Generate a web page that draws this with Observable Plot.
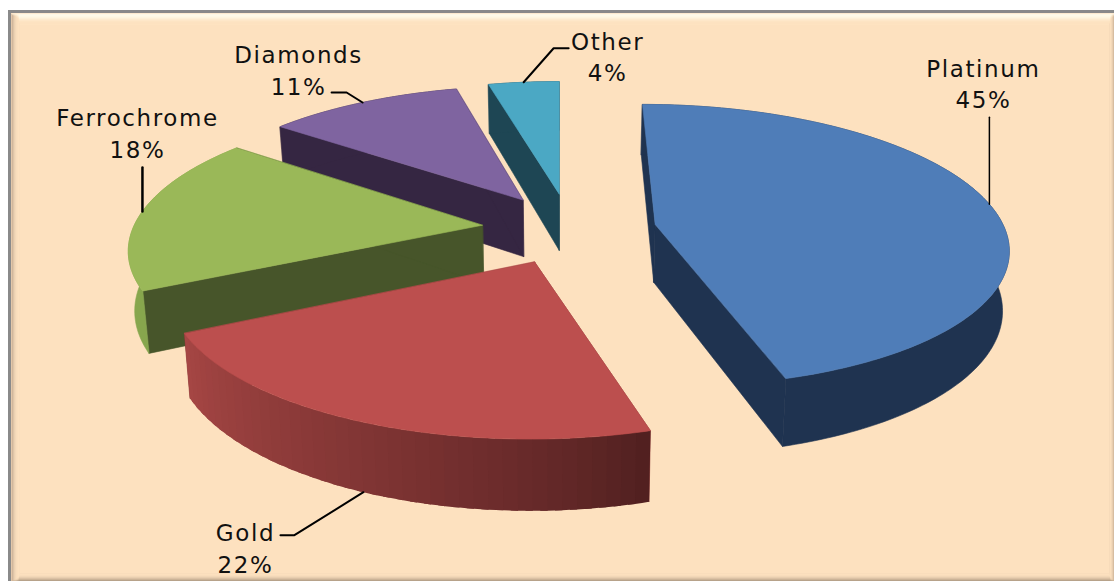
<!DOCTYPE html>
<html>
<head>
<meta charset="utf-8">
<script src="https://cdn.jsdelivr.net/npm/d3@7"></script>
<script src="https://cdn.jsdelivr.net/npm/@observablehq/plot@0.6"></script>
<style>
  html, body { margin: 0; padding: 0; background: #fff; overflow: hidden; }
  svg { display: block; }
  svg text { letter-spacing: 1.6px; }
</style>
</head>
<body>
<div id="chart"></div>
<script>
// Share of output by commodity, in percent, clockwise from twelve o'clock.
const commodities = ["Platinum", "Gold", "Ferrochrome", "Diamonds", "Other"];
const shares = [45, 22, 18, 11, 4];

const W = 1114, H = 581;

// Ground-plane perspective: unit pie mapped to the screen.
const vanishX = 558, horizon = -693, depthK = 0.15, scaleX = 347, planeSpan = 915;
const wallDepth = 58, wallShrink = 0.985;

// Explosion of each slice on the ground plane (pie radius = 1).
const explode = [[0.278, -0.012], [-0.066, -0.276], [-0.219, -0.02], [-0.105, 0.168], [0.002, 0.214]];

const topFill = ["#4f7db8", "#bc4f4e", "#9ab858", "#7f64a0", "#4ba8c4"];
const wallFill = ["#1f3350", "#8a3836", "#47552a", "#352642", "#1e4654"];
const rimFill = ["#1f3350", null, "#87a64d", "#352642", "#1e4654"];
const goldRimRamp = ["#4f1f1f", "#a64644"];

// Leader bends and label centres, relative to the slice's mid-angle rim point.
const leaderBends = [[[0, -87]], [[-69, 43], [-83, 43]], [[0, -44]], [[-16, -10], [-31, -10]], [[30, -34], [45, -34]]];
const labelOffsets = [[-6, -122], [-118, 55], [-5, -80], [-64, -34], [84, -27]];
const leaderWidths = [1.5, 2, 2.5, 2, 2];

function project(X, Y, drop = 0) {
  const w = 1 + depthK * Y;
  const shrink = drop ? wallShrink : 1;
  return {x: vanishX + shrink * scaleX * X / w, y: horizon + planeSpan / w + drop * wallDepth / w};
}
const rad = d => d * Math.PI / 180;
// The oblique view drifts angles by a couple of degrees around the back of the pie.
const viewAngle = d => d + 2.4 * Math.sin(Math.PI * Math.pow(d / 360, 1.8));
const rimPoint = (i, deg, drop = 0) => {
  const t = rad(viewAngle(deg));
  return project(explode[i][0] + Math.sin(t), explode[i][1] + Math.cos(t), drop);
};
const apex = (i, drop = 0) => project(explode[i][0], explode[i][1], drop);

const sweeps = [];
{
  let from = 0;
  shares.forEach(s => { const to = from + s * 3.6; sweeps.push([from, to]); from = to; });
}
const arc = (i, a, b, drop = 0) => {
  const n = Math.max(2, Math.ceil(Math.abs(b - a)));
  return d3.range(n + 1).map(k => rimPoint(i, a + (b - a) * k / n, drop));
};

const polygon = (pts, fill) => Plot.line(pts, {x: "x", y: "y", fill, stroke: fill, strokeWidth: 0.6, curve: "linear-closed"});

function sliceMarks(i) {
  const [a, b] = sweeps[i];
  const marks = [];
  const radialWall = deg => [apex(i), rimPoint(i, deg), rimPoint(i, deg, 1), apex(i, 1)];
  marks.push(polygon(radialWall(a), wallFill[i]));
  marks.push(polygon(radialWall(b), wallFill[i]));
  if (commodities[i] === "Gold") {
    // The rim darkens toward its right-hand end; each band overlaps the next so no seam shows.
    const ramp = d3.interpolateRgb(...goldRimRamp);
    const n = 40;
    for (let k = 0; k < n; k++) {
      const d0 = a + (b - a) * k / n;
      const d1 = Math.min(b, a + (b - a) * (k + 1.5) / n);
      const pts = [...arc(i, d0, d1), ...arc(i, d1, d0, 1)];
      marks.push(Plot.line(pts, {x: "x", y: "y", fill: ramp(Math.pow((k + 0.5) / n, 0.8)), curve: "linear-closed"}));
    }
  } else {
    marks.push(polygon([...arc(i, a, b), ...arc(i, b, a, 1)], rimFill[i]));
  }
  marks.push(polygon([apex(i), ...arc(i, a, b)], topFill[i]));
  return marks;
}

// Picture-frame bevel: concentric one-pixel bands, outermost first.
const page = "#fde1bf";
const ramps = {
  top: ["#fff6e2", "#fffbe9", "#fffbe9", "#fff8e2", "#fff4dc", "#ffeed2", "#fee9cc", "#fde5c5", "#fde3c2", "#fde2c0", page],
  left: ["#c9ae94", "#d9bfa3", "#e6ccae", "#f0d5b6", "#f6dbba", "#fadfbd", "#fce0be", page],
  right: ["#cfb598", "#e0c6a8", "#efd4b5", "#f8dcbb", page],
  bottom: ["#ac9a84", "#c2aa90", "#d4bb9e", "#e2c8aa", "#eed3b4", "#f6dbba", "#fbdfbd", page]
};
function bevelMarks(x0, y0, x1, y1) {
  const band = (side, pts) => ramps[side].map((c, t) =>
    Plot.line(pts(t), {x: "x", y: "y", fill: c, curve: "linear-closed"}));
  const nT = ramps.top.length, nL = ramps.left.length, nR = ramps.right.length, nB = ramps.bottom.length;
  return [
    ...band("top", t => [{x: x0, y: y0 + t}, {x: x1, y: y0 + t}, {x: x1 - nR, y: y0 + nT}, {x: x0 + nL, y: y0 + nT}]),
    ...band("bottom", t => [{x: x0, y: y1 - t}, {x: x1, y: y1 - t}, {x: x1 - nR, y: y1 - nB}, {x: x0 + nL, y: y1 - nB}]),
    ...band("left", t => [{x: x0 + t, y: y0}, {x: x0 + t, y: y1}, {x: x0 + nL, y: y1 - nB}, {x: x0 + nL, y: y0 + nT}]),
    ...band("right", t => [{x: x1 - t, y: y0}, {x: x1 - t, y: y1}, {x: x1 - nR, y: y1 - nB}, {x: x1 - nR, y: y0 + nT}])
  ];
}

// Leaders run from each slice's mid-angle rim point out to its label.
const anchors = commodities.map((name, i) => {
  const mid = (sweeps[i][0] + sweeps[i][1]) / 2;
  return name === "Gold" ? rimPoint(i, mid, 1) : rimPoint(i, mid);
});
const leaders = anchors.map((p, i) => [p, ...leaderBends[i].map(([dx, dy]) => ({x: p.x + dx, y: p.y + dy}))]);
const labels = commodities.map((name, i) => ({
  x: anchors[i].x + labelOffsets[i][0],
  y: anchors[i].y + labelOffsets[i][1],
  text: `${name}\n${shares[i]}%`
}));

const paintOrder = [4, 3, 2, 1, 0];

const chart = Plot.plot({
  width: W,
  height: H,
  margin: 0,
  x: {domain: [0, W], range: [0, W], axis: null},
  y: {domain: [0, H], range: [0, H], axis: null},
  style: {background: "#fff", fontFamily: "'DejaVu Sans', sans-serif"},
  marks: [
    Plot.rect([{x1: 8, x2: W, y1: 10, y2: H}], {x1: "x1", x2: "x2", y1: "y1", y2: "y2", fill: "#8a8a8a"}),
    Plot.rect([{x1: 11, x2: W, y1: 13, y2: H}], {x1: "x1", x2: "x2", y1: "y1", y2: "y2", fill: page}),
    ...bevelMarks(11, 13, W, H),
    ...paintOrder.flatMap(sliceMarks),
    ...leaders.map((pts, i) => Plot.line(pts, {x: "x", y: "y", stroke: "#000", strokeWidth: leaderWidths[i]})),
    Plot.text(labels, {x: "x", y: "y", text: "text", fontSize: 23, lineHeight: 1.39, fill: "#111", textAnchor: "middle"})
  ]
});
document.getElementById("chart").append(chart);
</script>
</body>
</html>
